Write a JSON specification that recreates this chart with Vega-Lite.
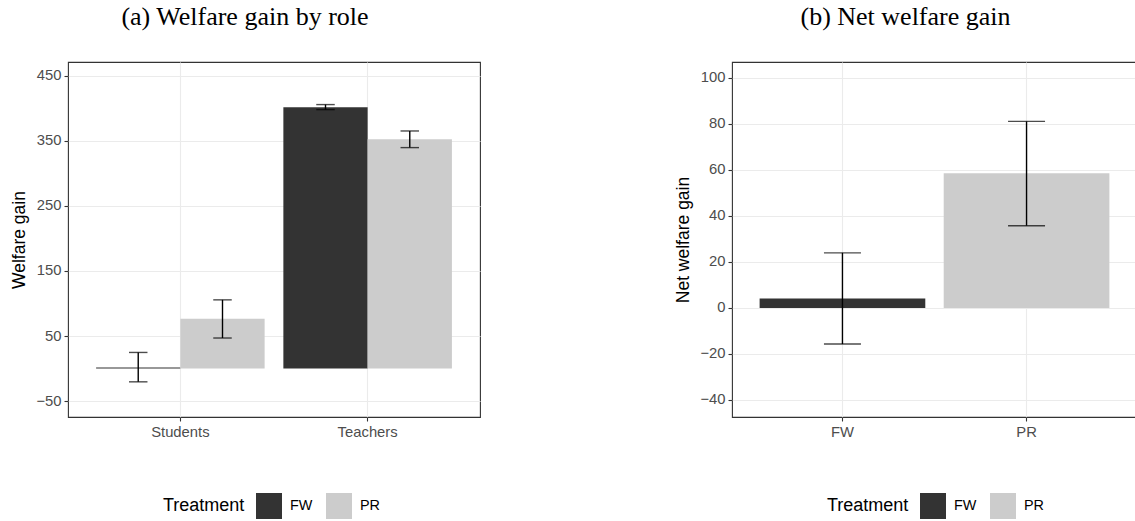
{
  "$schema": "https://vega.github.io/schema/vega-lite/v6.json",
  "padding": {"left": 9, "top": 3, "right": 0, "bottom": 0},
  "background": "white",
  "spacing": 192,
  "config": {
    "font": "Liberation Sans",
    "view": {"stroke": "#333333", "strokeWidth": 1.1},
    "title": {"font": "Liberation Serif", "fontSize": 26, "fontWeight": "normal", "color": "black", "anchor": "middle", "frame": "bounds", "offset": 32},
    "axis": {
      "domain": false,
      "labelFont": "Liberation Sans",
      "labelFontSize": 14.8,
      "labelColor": "#4D4D4D",
      "tickColor": "#333333",
      "tickSize": 4,
      "tickWidth": 1.1,
      "labelPadding": 3,
      "gridColor": "#EBEBEB",
      "titleFont": "Liberation Sans",
      "titleFontSize": 17.5,
      "titleFontWeight": "normal",
      "titleColor": "black"
    },
    "legend": {
      "orient": "none",
      "direction": "horizontal",
      "titleOrient": "left",
      "titleFont": "Liberation Sans",
      "titleFontSize": 18,
      "titleFontWeight": "normal",
      "titleColor": "black",
      "titleBaseline": "middle",
      "titlePadding": 11,
      "labelFont": "Liberation Sans",
      "labelFontSize": 14.4,
      "labelColor": "black",
      "labelOffset": 8,
      "columnPadding": 13,
      "symbolType": "square",
      "symbolSize": 676,
      "symbolStrokeWidth": 0,
      "padding": 0
    }
  },
  "resolve": {
    "scale": {"x": "independent", "y": "independent", "color": "independent", "xOffset": "independent"},
    "legend": {"color": "independent"}
  },
  "hconcat": [
    {
      "width": 412,
      "height": 355,
      "title": {"text": "(a) Welfare gain by role"},
      "data": {
        "values": [
          {"Role": "Students", "Treatment": "FW", "Gain": 1.5, "Lo": -20.5, "Hi": 24.7},
          {"Role": "Students", "Treatment": "PR", "Gain": 76.7, "Lo": 46.9, "Hi": 105.6},
          {"Role": "Teachers", "Treatment": "FW", "Gain": 401.9, "Lo": 398.3, "Hi": 406.0},
          {"Role": "Teachers", "Treatment": "PR", "Gain": 352.7, "Lo": 339.8, "Hi": 365.4}
        ]
      },
      "encoding": {
        "x": {
          "field": "Role", "type": "nominal",
          "scale": {"paddingInner": 0.1, "paddingOuter": 0.15},
          "axis": {"title": null, "labelAngle": 0, "grid": true, "gridWidth": 1.1, "bandPosition": 0.5}
        },
        "xOffset": {"field": "Treatment", "type": "nominal", "scale": {"paddingInner": 0, "paddingOuter": 0}}
      },
      "layer": [
        {
          "mark": {"type": "bar"},
          "encoding": {
            "y": {
              "field": "Gain", "type": "quantitative", "title": "Welfare gain",
              "scale": {"domain": [-74.6, 471.5], "nice": false, "zero": false},
              "axis": {
                "values": [-50, 0, 50, 100, 150, 200, 250, 300, 350, 400, 450],
                "labelExpr": "datum.value % 100 === 0 ? '' : datum.label",
                "grid": true,
                "gridWidth": {"condition": {"test": "datum.value % 100 === 0", "value": 0.55}, "value": 1.1},
                "tickOpacity": {"condition": {"test": "datum.value % 100 === 0", "value": 0}, "value": 1},
                "minExtent": 35, "maxExtent": 35, "titlePadding": 5
              }
            },
            "y2": {"datum": 0},
            "color": {
              "field": "Treatment", "type": "nominal",
              "scale": {"domain": ["FW", "PR"], "range": ["#333333", "#CCCCCC"]},
              "legend": {"title": "Treatment", "legendX": 95, "legendY": 431}
            }
          }
        },
        {
          "mark": {"type": "rule", "color": "black", "strokeWidth": 1.4},
          "encoding": {
            "y": {"field": "Lo", "type": "quantitative", "title": "Welfare gain", "scale": {"domain": [-74.6, 471.5], "nice": false, "zero": false}},
            "y2": {"field": "Hi"}
          }
        },
        {
          "mark": {"type": "tick", "color": "black", "thickness": 1.4, "size": 18.5},
          "encoding": {
            "y": {"field": "Lo", "type": "quantitative", "title": "Welfare gain", "scale": {"domain": [-74.6, 471.5], "nice": false, "zero": false}}
          }
        },
        {
          "mark": {"type": "tick", "color": "black", "thickness": 1.4, "size": 18.5},
          "encoding": {
            "y": {"field": "Hi", "type": "quantitative", "title": "Welfare gain", "scale": {"domain": [-74.6, 471.5], "nice": false, "zero": false}}
          }
        }
      ]
    },
    {
      "width": 405,
      "height": 355,
      "title": {"text": "(b) Net welfare gain"},
      "data": {
        "values": [
          {"Treatment": "FW", "Net": 4.1, "Lo": -15.7, "Hi": 23.9},
          {"Treatment": "PR", "Net": 58.5, "Lo": 35.7, "Hi": 81.0}
        ]
      },
      "encoding": {
        "x": {
          "field": "Treatment", "type": "nominal",
          "scale": {"paddingInner": 0.1, "paddingOuter": 0.15},
          "axis": {"title": null, "labelAngle": 0, "grid": true, "gridWidth": 1.1, "bandPosition": 0.5}
        }
      },
      "layer": [
        {
          "mark": {"type": "bar"},
          "encoding": {
            "y": {
              "field": "Net", "type": "quantitative", "title": "Net welfare gain",
              "scale": {"domain": [-47.4, 106.8], "nice": false, "zero": false},
              "axis": {
                "values": [-40, -30, -20, -10, 0, 10, 20, 30, 40, 50, 60, 70, 80, 90, 100],
                "labelExpr": "datum.value % 20 !== 0 ? '' : datum.label",
                "grid": true,
                "gridWidth": {"condition": {"test": "datum.value % 20 !== 0", "value": 0.55}, "value": 1.1},
                "tickOpacity": {"condition": {"test": "datum.value % 20 !== 0", "value": 0}, "value": 1},
                "minExtent": 35, "maxExtent": 35, "titlePadding": 5
              }
            },
            "y2": {"datum": 0},
            "color": {
              "field": "Treatment", "type": "nominal",
              "scale": {"domain": ["FW", "PR"], "range": ["#333333", "#CCCCCC"]},
              "legend": {"title": "Treatment", "legendX": 95, "legendY": 431}
            }
          }
        },
        {
          "mark": {"type": "rule", "color": "black", "strokeWidth": 1.4},
          "encoding": {
            "y": {"field": "Lo", "type": "quantitative", "title": "Net welfare gain", "scale": {"domain": [-47.4, 106.8], "nice": false, "zero": false}},
            "y2": {"field": "Hi"}
          }
        },
        {
          "mark": {"type": "tick", "color": "black", "thickness": 1.4, "size": 37},
          "encoding": {
            "y": {"field": "Lo", "type": "quantitative", "title": "Net welfare gain", "scale": {"domain": [-47.4, 106.8], "nice": false, "zero": false}}
          }
        },
        {
          "mark": {"type": "tick", "color": "black", "thickness": 1.4, "size": 37},
          "encoding": {
            "y": {"field": "Hi", "type": "quantitative", "title": "Net welfare gain", "scale": {"domain": [-47.4, 106.8], "nice": false, "zero": false}}
          }
        }
      ]
    }
  ]
}
